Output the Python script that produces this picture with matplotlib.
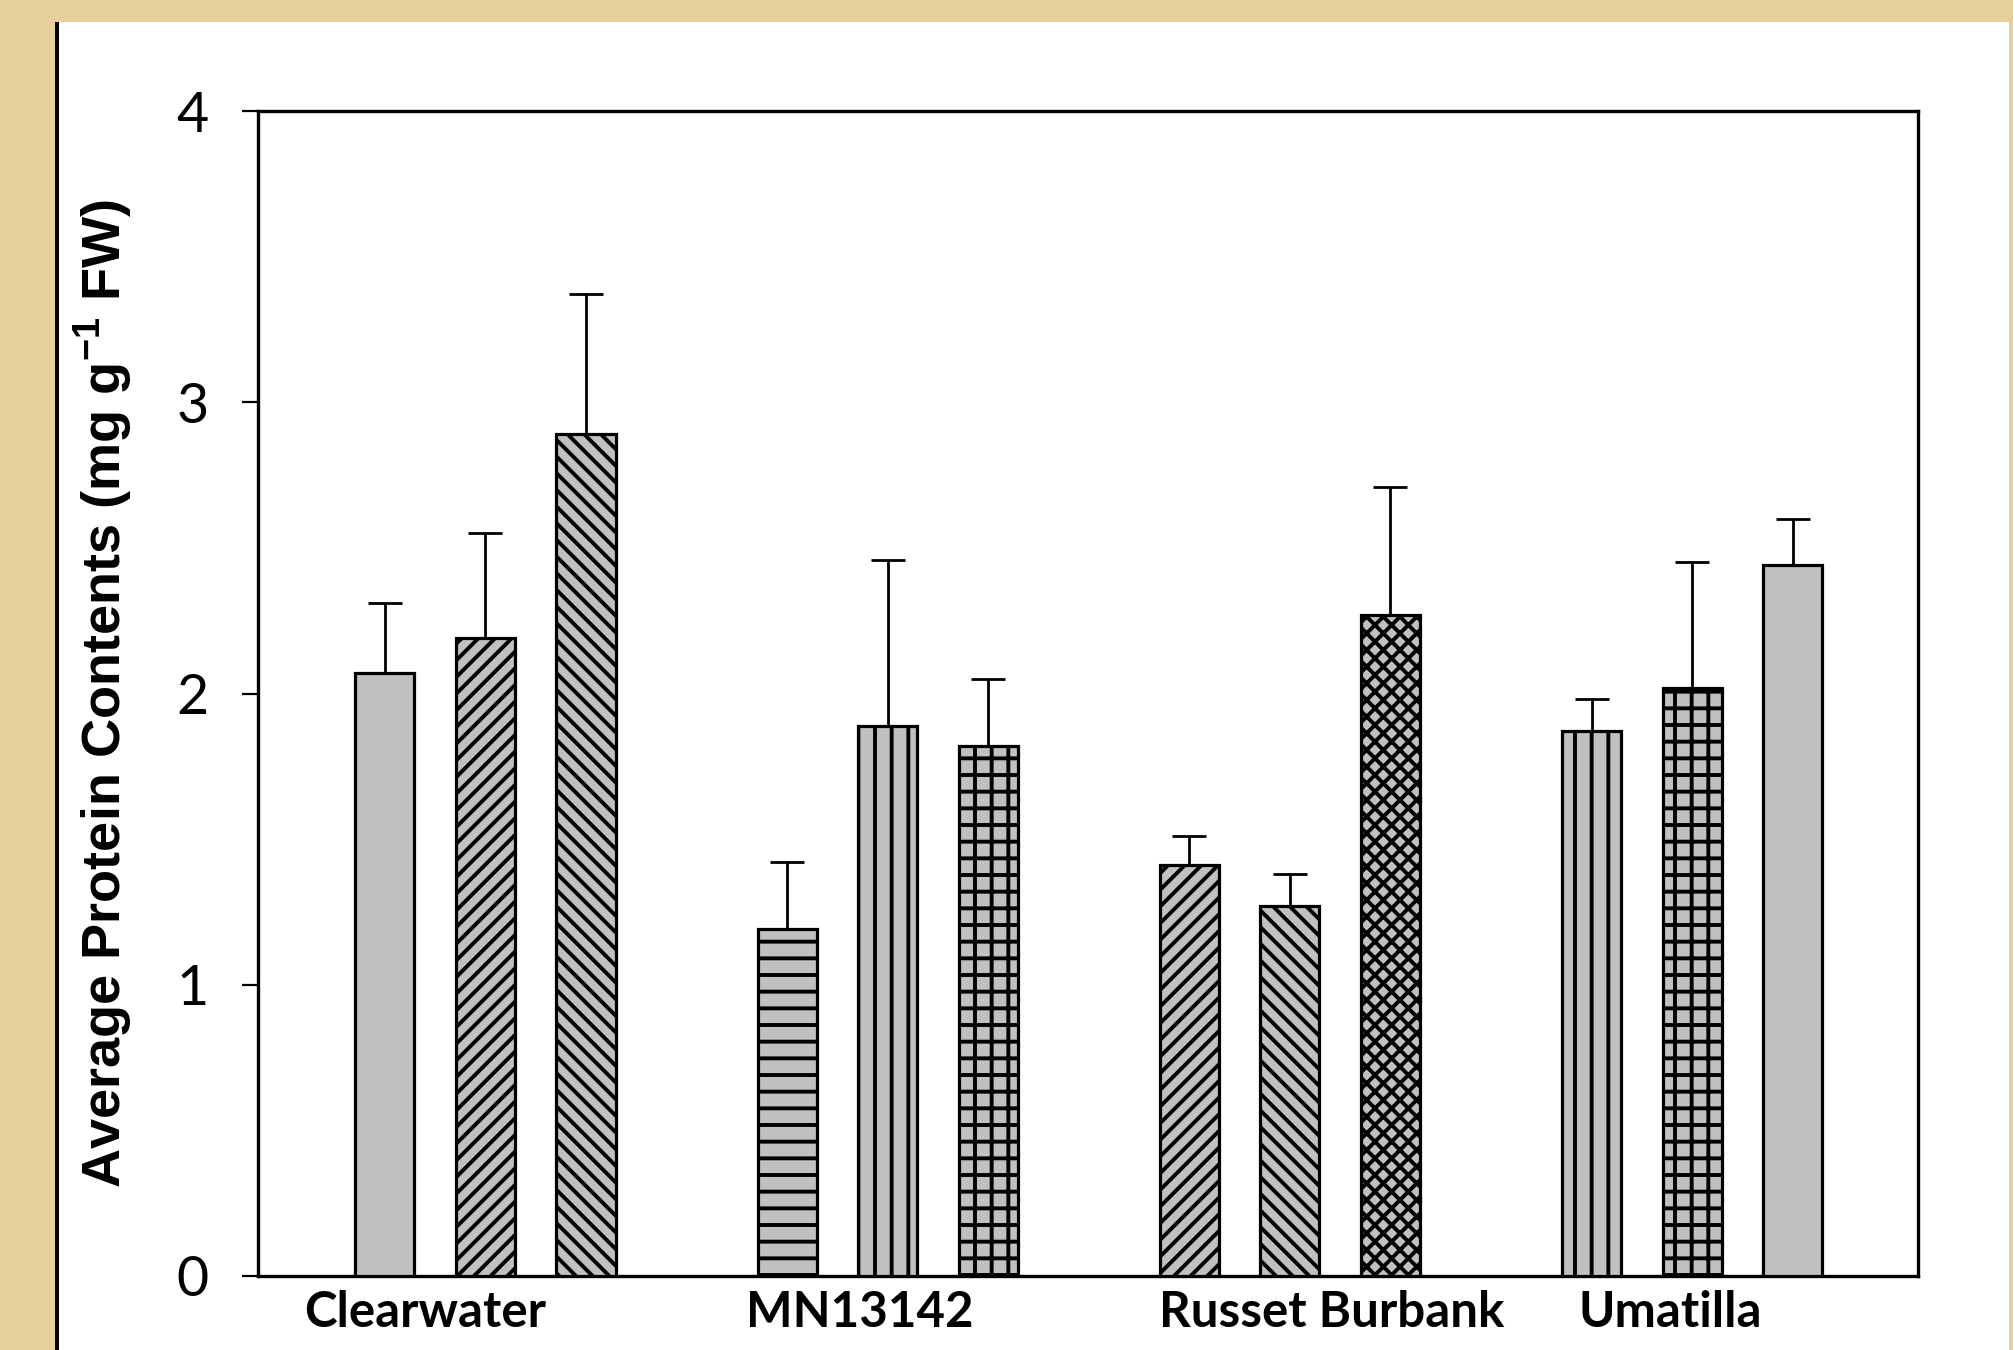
import matplotlib
matplotlib.use("Agg")
import matplotlib.pyplot as plt
from matplotlib.patches import Rectangle

# Cultivars and the three treatments shown per cultivar
cultivars = ["Clearwater", "MN13142", "Russet Burbank", "Umatilla"]
means = [
    [2.07, 2.19, 2.89],   # Clearwater
    [1.19, 1.89, 1.82],   # MN13142
    [1.41, 1.27, 2.27],   # Russet Burbank
    [1.87, 2.02, 2.44],   # Umatilla
]
errors = [
    [0.24, 0.36, 0.48],
    [0.23, 0.57, 0.23],
    [0.10, 0.11, 0.44],
    [0.11, 0.43, 0.16],
]
hatches = [
    ["", "//", "\\\\"],
    ["-", "|", "+"],
    ["//", "\\\\", "xx"],
    ["|", "+", ""],
]
y_ticks = [0, 1, 2, 3, 4]
label_offsets = [-0.149, -0.069, 0.105, -0.055]

plt.rcParams["hatch.linewidth"] = 2.8
plt.rcParams["hatch.color"] = "black"
plt.rcParams["mathtext.fontset"] = "custom"
plt.rcParams["mathtext.rm"] = "Liberation Sans"
plt.rcParams["mathtext.bf"] = "Liberation Sans:bold"

W, H = 2013, 1350
fig = plt.figure(figsize=(W / 100, H / 100), dpi=100)
fig.patch.set_facecolor("#E6CF9C")

# white panel with dark left edge
panel_left, panel_right, panel_top = 55 / W, 2009 / W, 1 - 22 / H
fig.add_artist(Rectangle((panel_left, 0), panel_right - panel_left, panel_top,
                         transform=fig.transFigure, facecolor="white",
                         edgecolor="none", zorder=0))
fig.add_artist(Rectangle((panel_left, 0), 4 / W, panel_top,
                         transform=fig.transFigure, facecolor="black",
                         edgecolor="none", zorder=1))

ax = fig.add_axes([258 / W, 74 / H, (1918 - 258) / W, (1276 - 111) / H])
ax.set_facecolor("white")

offsets = [-0.25, 0.0, 0.25]
bar_w = 0.147
for gi, (vals, errs, hs) in enumerate(zip(means, errors, hatches)):
    for k in range(3):
        x = gi + offsets[k]
        ax.errorbar(x, vals[k], yerr=[[0], [errs[k]]], fmt="none",
                    ecolor="black", elinewidth=2.0, capsize=12,
                    capthick=2.0, zorder=2)
        ax.bar(x, vals[k], width=bar_w, color="#C0C0C0", edgecolor="black",
               linewidth=2.3, hatch=hs[k], zorder=3)

ax.set_xlim(-0.5656, 3.5617)
ax.set_ylim(0, 4)
ax.set_yticks(y_ticks)
ax.set_yticklabels([str(t) for t in y_ticks], fontfamily="Lato", fontsize=40)
ax.tick_params(axis="y", direction="out", length=11.5, width=1.6, pad=24)

ax.set_xticks([i + o for i, o in enumerate(label_offsets)])
ax.set_xticklabels(cultivars, fontfamily="Lato", fontweight="bold", fontsize=35.5)
ax.tick_params(axis="x", length=0, pad=10)

for s in ax.spines.values():
    s.set_linewidth(2.4)
    s.set_color("black")

ax.set_ylabel(r"Average Protein Contents (mg g$^{\mathbf{-1}}$ FW)",
              fontfamily="Liberation Sans", fontweight="bold", fontsize=39,
              labelpad=30)

fig.savefig("out.png", dpi=100, facecolor=fig.get_facecolor())
